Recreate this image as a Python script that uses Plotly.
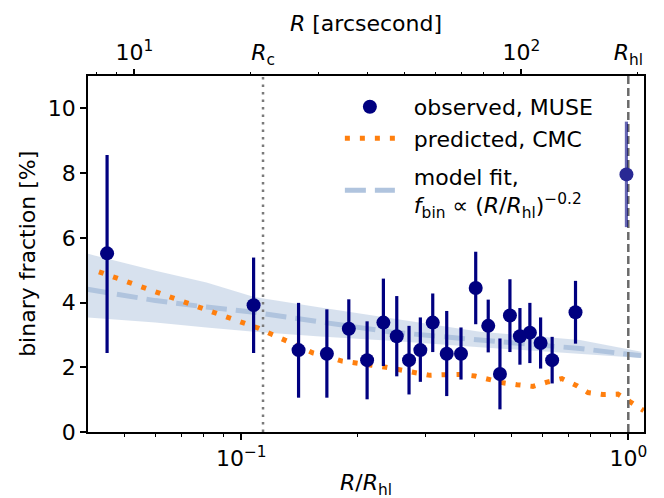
import numpy as np
import plotly.graph_objects as go

# ---------------- data ----------------
R_HL_ARCSEC = 189.0          # half-light radius in arcsec
R_C = 0.1138                 # core radius in units of R_hl
R_HL = 1.0

# observed (MUSE) binary fractions
obs_r = [0.0450, 0.1076, 0.1406, 0.1664, 0.1896, 0.2114, 0.2329, 0.2522, 0.2713, 0.2902, 0.3124,
         0.3395, 0.3696, 0.4034, 0.4346, 0.4660, 0.4945, 0.5248, 0.5568, 0.5935, 0.6357, 0.7305]
obs_f = [5.52, 3.92, 2.53, 2.42, 3.19, 2.22, 3.38, 2.96, 2.22, 2.53, 3.38,
         2.42, 2.42, 4.45, 3.28, 1.79, 3.60, 2.96, 3.07, 2.75, 2.22, 3.70]
obs_lo = [2.44, 2.44, 1.06, 1.06, 2.24, 1.01, 2.04, 1.72, 1.16, 1.55, 2.47,
          1.11, 1.62, 3.33, 2.46, 0.70, 2.47, 2.08, 2.13, 1.96, 1.50, 2.73]
obs_hi = [8.56, 5.39, 3.99, 3.79, 4.10, 3.42, 4.74, 4.20, 3.28, 3.54, 4.28,
          3.74, 3.23, 5.57, 4.09, 2.89, 4.72, 3.83, 3.99, 3.54, 2.94, 4.67]

# outermost bin (drawn faded)
out_r = [0.989]
out_f = [7.96]
out_lo = [6.33]
out_hi = [9.59]

# predicted, CMC
cmc_r = [0.04287, 0.1106, 0.1202, 0.1306, 0.1420, 0.1534, 0.1667, 0.1822, 0.1992, 0.2178, 0.2366,
         0.2572, 0.2779, 0.3074, 0.3361, 0.3674, 0.4017, 0.4391, 0.4745, 0.5157, 0.5669, 0.6163,
         0.6738, 0.7364, 0.7862, 0.8594, 0.9395, 1.009, 1.096]
cmc_f = [4.95, 3.21, 3.01, 2.84, 2.63, 2.44, 2.34, 2.19, 2.11, 2.06, 2.00,
         1.91, 1.83, 1.75, 1.77, 1.78, 1.73, 1.60, 1.52, 1.46, 1.41, 1.54,
         1.65, 1.43, 1.22, 1.16, 1.17, 0.94, 0.66]

# model fit with confidence band
fit_r = [0.0400, 0.0600, 0.0813, 0.108, 0.160, 0.243, 0.414, 0.750, 1.0, 1.08]
fit_f = [4.41, 4.06, 3.86, 3.70, 3.40, 3.09, 2.84, 2.58, 2.40, 2.36]
fit_lo = [3.54, 3.38, 3.23, 3.10, 2.95, 2.82, 2.62, 2.42, 2.32, 2.29]
fit_hi = [5.51, 4.98, 4.62, 4.17, 3.85, 3.51, 3.10, 2.84, 2.55, 2.48]

# axes
x_range = [0.04017, 1.098]
y_range = [0, 11]
y_ticks = [0, 2, 4, 6, 8, 10]
bot_ticks = [0.1, 1.0]
bot_ticktext = ["10<sup>−1</sup>", "10<sup>0</sup>"]
bot_minor = [0.04, 0.05, 0.06, 0.07, 0.08, 0.09, 0.2, 0.3, 0.4, 0.5, 0.6, 0.7, 0.8, 0.9]
top_ticks = [10, 100]
top_ticktext = ["10<sup>1</sup>", "10<sup>2</sup>"]
top_minor = [8, 9, 20, 30, 40, 50, 60, 70, 80, 90, 200]

FONT = "DejaVu Sans"
FS = 22
NAVY = "#000080"
ORANGE = "#ff7f0e"
LSB = "#b0c4de"
PAD = "\u00a0\u00a0"

fig = go.Figure()

# confidence band
fig.add_trace(go.Scatter(x=fit_r, y=fit_lo, mode="lines", line=dict(width=0),
                         showlegend=False, hoverinfo="skip"))
fig.add_trace(go.Scatter(x=fit_r, y=fit_hi, mode="lines", line=dict(width=0),
                         fill="tonexty", fillcolor="rgba(176,196,222,0.5)",
                         showlegend=False, hoverinfo="skip"))
# fit line
fig.add_trace(go.Scatter(x=fit_r, y=fit_f, mode="lines",
                         line=dict(color=LSB, width=5, dash="21px,9px"),
                         name=PAD + "model fit,<br>" + PAD +
                              "<i>f</i><sub>bin</sub> ∝ (<i>R</i>/<i>R</i><sub>hl</sub>)<sup>−0.2</sup>",
                         legendrank=3, legendgroup="g2"))
# CMC prediction
fig.add_trace(go.Scatter(x=cmc_r, y=cmc_f, mode="lines",
                         line=dict(color=ORANGE, width=5, dash="5px,10px"),
                         name=PAD + "predicted, CMC", legendrank=2, legendgroup="g1"))
# vertical reference lines
fig.add_trace(go.Scatter(x=[R_C, R_C], y=y_range, mode="lines",
                         line=dict(color="#7a7a7a", width=2.5, dash="2.5px,5px"),
                         showlegend=False, hoverinfo="skip"))
fig.add_trace(go.Scatter(x=[R_HL, R_HL], y=y_range, mode="lines",
                         line=dict(color="#6a6a6a", width=2.5, dash="8px,4px"),
                         showlegend=False, hoverinfo="skip"))

# observed
obs_plus = [h - f for h, f in zip(obs_hi, obs_f)]
obs_minus = [f - l for f, l in zip(obs_f, obs_lo)]
fig.add_trace(go.Scatter(x=obs_r, y=obs_f, mode="markers",
                         marker=dict(color=NAVY, size=14),
                         error_y=dict(type="data", array=obs_plus, arrayminus=obs_minus,
                                      color=NAVY, thickness=3.2, width=0),
                         name=PAD + "observed, MUSE", legendrank=1, legendgroup="g1"))
out_plus = [h - f for h, f in zip(out_hi, out_f)]
out_minus = [f - l for f, l in zip(out_f, out_lo)]
fig.add_trace(go.Scatter(x=out_r, y=out_f, mode="markers",
                         marker=dict(color="rgb(41,41,148)", size=14),
                         error_y=dict(type="data", array=out_plus, arrayminus=out_minus,
                                      color="rgba(0,0,128,0.6)", thickness=3.2, width=0),
                         showlegend=False))

# dummy traces to instantiate the top axes
fig.add_trace(go.Scatter(x=[R_HL_ARCSEC], y=[None], xaxis="x2", showlegend=False, hoverinfo="skip"))
fig.add_trace(go.Scatter(x=[R_HL_ARCSEC], y=[None], xaxis="x3", showlegend=False, hoverinfo="skip"))

log_lo = np.log10(x_range[0])
log_hi = np.log10(x_range[1])
arc_off = np.log10(R_HL_ARCSEC)

axis_common = dict(showgrid=False, zeroline=False, color="black", automargin=False,
                   tickfont=dict(family=FONT, size=FS, color="black"))

title_font = dict(family=FONT, size=FS, color="black")

# the page body adds an 8px offset, so the figure is drawn 8px smaller
fig.update_layout(
    width=656, height=490,
    margin=dict(l=80, r=20, t=68, b=66),
    paper_bgcolor="white", plot_bgcolor="white",
    font=dict(family=FONT, size=FS, color="black"),
    xaxis=dict(type="log", range=[log_lo, log_hi], tickvals=bot_ticks, ticktext=bot_ticktext,
               ticks="outside", ticklen=6, tickwidth=1.5, linewidth=1.5, linecolor="black",
               showline=True, mirror=True,
               minor=dict(tickvals=bot_minor, ticks="outside", ticklen=3.5, tickwidth=1.1,
                          tickcolor="black"),
               **axis_common),
    xaxis2=dict(type="log", range=[log_lo + arc_off, log_hi + arc_off], overlaying="x", side="top",
                anchor="y", tickvals=top_ticks, ticktext=top_ticktext,
                ticks="outside", ticklen=6, tickwidth=1.5, showline=False,
                minor=dict(tickvals=top_minor, ticks="outside", ticklen=3.5, tickwidth=1.1,
                           tickcolor="black"),
                **axis_common),
    xaxis3=dict(type="log", range=[log_lo + arc_off, log_hi + arc_off], overlaying="x", side="top",
                anchor="y", tickvals=[R_C * R_HL_ARCSEC, R_HL * R_HL_ARCSEC],
                ticktext=["<i>R</i><sub>c</sub>", "<i>R</i><sub>hl</sub>"],
                ticks="outside", ticklen=6, tickcolor="rgba(0,0,0,0)", showline=False,
                **axis_common),
    yaxis=dict(range=y_range, tickvals=y_ticks, ticks="outside", ticklen=6, tickwidth=1.5,
               linewidth=1.5, linecolor="black", showline=True, mirror=True,
               **axis_common),
    legend=dict(x=0.453, y=0.972, xanchor="left", yanchor="top", bgcolor="rgba(0,0,0,0)",
                font=dict(family=FONT, size=FS), traceorder="grouped", tracegroupgap=6,
                itemwidth=50),
    showlegend=True,
    annotations=[
        dict(text="<i>R</i>/<i>R</i><sub>hl</sub>", xref="paper", yref="paper", x=0.5, y=-0.148,
             xanchor="center", yanchor="middle", showarrow=False, font=title_font),
        dict(text="<i>R</i> [arcsecond]", xref="paper", yref="paper", x=0.5, y=1.148,
             xanchor="center", yanchor="middle", showarrow=False, font=title_font),
        dict(text="binary fraction [%]", xref="paper", yref="paper", x=-0.11, y=0.5,
             xanchor="center", yanchor="middle", textangle=-90, showarrow=False, font=title_font),
    ],
)

fig.write_html("out.html")
